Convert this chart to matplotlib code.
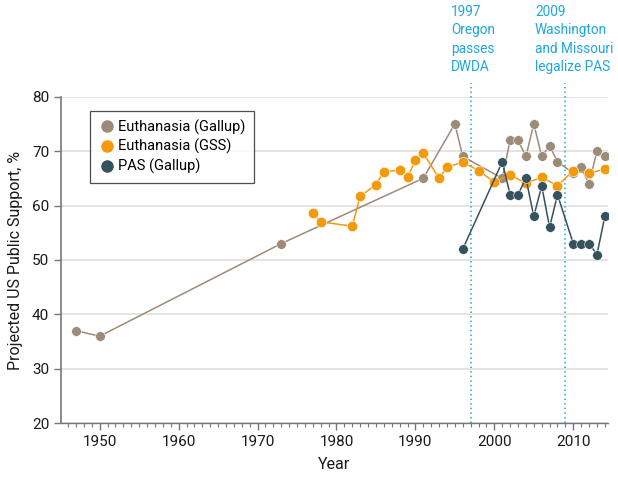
import matplotlib
matplotlib.use("Agg")
import matplotlib.pyplot as plt
import matplotlib.ticker as ticker
from matplotlib.lines import Line2D
from matplotlib import font_manager

# Euthanasia (Gallup)
gallup_years = [1947, 1950, 1973, 1991, 1995, 1996, 2001, 2002, 2003, 2004, 2005,
                2006, 2007, 2008, 2010, 2011, 2012, 2013, 2014]
gallup_vals = [37, 36, 53, 65, 75, 69, 65, 72, 72, 69, 75,
               69, 71, 68, 66, 67, 64, 70, 69]

# Euthanasia (GSS)
gss_years = [1977, 1978, 1982, 1983, 1985, 1986, 1988, 1989, 1990, 1991, 1993,
             1994, 1996, 1998, 2000, 2002, 2004, 2006, 2008, 2010, 2012, 2014]
gss_vals = [58.6, 57.0, 56.2, 61.7, 63.8, 66.2, 66.5, 65.2, 68.3, 69.6, 65.0,
            67.0, 68.0, 66.4, 64.3, 65.6, 64.1, 65.2, 63.6, 66.4, 65.9, 66.7]

# PAS (Gallup)
pas_years = [1996, 2001, 2002, 2003, 2004, 2005, 2006, 2007, 2008, 2010,
             2011, 2012, 2013, 2014]
pas_vals = [52, 68, 62, 62, 65, 58, 63.6, 56, 62, 53, 53, 53, 51, 58]

events = [1997, 2009]
event_labels = ["1997\nOregon\npasses\nDWDA", "2009\nWashington\nand Missouri\nlegalize PAS"]

C_GRAY = "#9b8b78"
C_ORANGE = "#f39a0c"
C_TEAL = "#34525e"
C_BLUE = "#1fa6df"

plt.rcParams['font.family'] = ['Roboto', 'DejaVu Sans']

# narrow font for the event notes, if one is installed
installed = {f.name for f in font_manager.fontManager.ttflist}
if 'Liberation Sans Narrow' in installed:
    note_family, note_size = 'Liberation Sans Narrow', 11.5
elif 'DejaVu Sans Condensed' in installed:
    note_family, note_size = 'DejaVu Sans Condensed', 10
else:
    note_family, note_size = 'Roboto', 9.8

fig = plt.figure(figsize=(6.18, 4.78), dpi=100)
ax = fig.add_axes([61 / 618, 54.7 / 478, 547 / 618, 326.7 / 478])

ax.plot(gallup_years, gallup_vals, color=C_GRAY, lw=1.1, marker='o', ms=7,
        mec='white', mew=0.4, zorder=3)
ax.plot(gss_years, gss_vals, color=C_ORANGE, lw=1.1, marker='o', ms=7.5,
        mec='white', mew=0.4, zorder=4)
ax.plot(pas_years, pas_vals, color=C_TEAL, lw=1.1, marker='o', ms=7,
        mec='white', mew=0.4, zorder=5)

for yr in events:
    ax.plot([yr, yr], [20, 82.5], color=C_BLUE, lw=1.1, ls=(0, (1, 2)),
            clip_on=False, zorder=2)

fig.text(451 / 618, 1 - 5 / 478, event_labels[0], color=C_BLUE, fontsize=note_size,
         va='top', ha='left', linespacing=1.4, family=note_family)
fig.text(535 / 618, 1 - 5 / 478, event_labels[1], color=C_BLUE, fontsize=note_size,
         va='top', ha='left', linespacing=1.4, family=note_family)

ax.set_xlim(1945.1, 2014.4)
ax.set_ylim(20, 80)
ax.xaxis.set_minor_locator(ticker.MultipleLocator(1))
ax.yaxis.set_major_locator(ticker.MultipleLocator(10))
ax.set_xticks([1950, 1960, 1970, 1980, 1990, 2000, 2010])

ax.grid(axis='y', color='#e2e2e2', lw=1.3, zorder=0)
ax.set_axisbelow(True)
for s in ['top', 'right']:
    ax.spines[s].set_visible(False)
ax.spines['left'].set_color('#777777')
ax.spines['bottom'].set_color('#777777')
ax.spines['left'].set_linewidth(1.2)
ax.spines['bottom'].set_linewidth(1.0)

ax.tick_params(axis='both', which='major', labelsize=11, color='#777777',
               labelcolor='#1a1a1a', length=5, width=1)
ax.tick_params(axis='x', which='minor', color='#777777', length=3, width=0.8)

ax.set_xlabel("Year", fontsize=11.5, color='#1a1a1a', labelpad=6)
ax.set_ylabel("Projected US Public Support, %", fontsize=11.5, color='#1a1a1a', labelpad=6)

handles = [
    Line2D([], [], ls='none', marker='o', ms=8, color=C_GRAY, label='Euthanasia (Gallup)'),
    Line2D([], [], ls='none', marker='o', ms=8, color=C_ORANGE, label='Euthanasia (GSS)'),
    Line2D([], [], ls='none', marker='o', ms=8, color=C_TEAL, label='PAS (Gallup)'),
]
leg = ax.legend(handles=handles, loc='upper left', bbox_to_anchor=(0.053, 0.957),
                borderaxespad=0, fontsize=10.5, frameon=True, fancybox=False,
                handletextpad=0.1, labelspacing=0.3, borderpad=0.6, handlelength=1.2)
leg.get_frame().set_edgecolor('#222222')
leg.get_frame().set_linewidth(0.9)

fig.savefig("out.png", dpi=100)
